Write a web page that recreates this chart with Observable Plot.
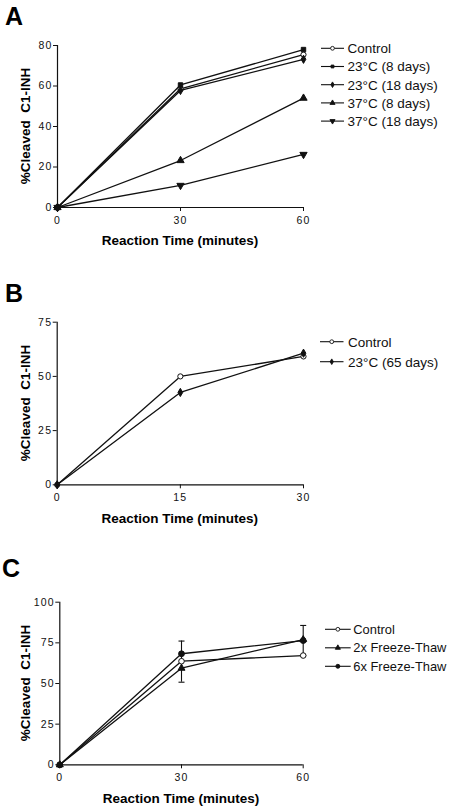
<!DOCTYPE html>
<html>
<head>
<meta charset="utf-8">
<script src="https://cdn.jsdelivr.net/npm/d3@7"></script>
<script src="https://cdn.jsdelivr.net/npm/@observablehq/plot@0.6"></script>
<style>
  html, body { margin: 0; padding: 0; background: #fff; }
  #root { width: 450px; height: 807px; position: relative; overflow: hidden; }
  #root svg { display: block; }
  #root g[aria-label$="tick label"] text { letter-spacing: 1.2px; }
</style>
</head>
<body>
<div id="root"></div>
<script>
// ---------- Panel A ----------
const timeA = [0, 30, 60];
const controlA = [0, 58.6, 75.5];
const c23d8A = [0, 60.5, 78];
const c23d18A = [0, 57.8, 73.2];
const c37d8A = [0, 23.2, 54];
const c37d18A = [0, 10.9, 26.2];
const xTicksA = [0, 30, 60];
const yTicksA = [0, 20, 40, 60, 80];

// ---------- Panel B ----------
const timeB = [0, 15, 30];
const controlB = [0, 50, 59.2];
const c23d65B = [0, 42.6, 60.7];
const xTicksB = [0, 15, 30];
const yTicksB = [0, 25, 50, 75];

// ---------- Panel C ----------
const timeC = [0, 30, 60];
const controlC = [0, 63.7, 67.2];
const ft2xC = [0, 59.4, 77];
const ft6xC = [0, 68.3, 76.4];
const errTimeC = [30, 60];
const errLowC = [50.8, 67.1];
const errHighC = [76.1, 85.7];
const xTicksC = [0, 30, 60];
const yTicksC = [0, 25, 50, 75, 100];

const xTitle = "Reaction Time (minutes)";
const yTitle = "%Cleaved\u00A0 C1-INH";
const FONT = "'Liberation Sans', Arial, Helvetica, sans-serif";

// custom symbols
const triangleDown = {
  draw(ctx, size) {
    const y = -Math.sqrt(size / (3 * Math.sqrt(3)));
    ctx.moveTo(0, -y * 2);
    ctx.lineTo(-Math.sqrt(3) * y, y);
    ctx.lineTo(Math.sqrt(3) * y, y);
    ctx.closePath();
  }
};
const capSymbol = {
  draw(ctx, size) {
    const w = Math.sqrt(size);
    ctx.moveTo(-w, 0);
    ctx.lineTo(w, 0);
  }
};
const symbolFor = {
  circle: d3.symbolCircle,
  square: d3.symbolSquare,
  diamond: d3.symbolDiamond,
  triangle: d3.symbolTriangle,
  triangleDown: triangleDown
};

function rowsOf(series, times) {
  return series.flatMap(s => times.map((t, i) => ({series: s.name, x: t, y: s.values[i]})));
}

function panel(cfg) {
  const rows = rowsOf(cfg.series, cfg.times);
  const marks = [
    Plot.ruleX([0], {stroke: "#111", strokeWidth: 1.2}),
    Plot.ruleY([0], {stroke: "#111", strokeWidth: 1.2}),
    Plot.axisX({ticks: cfg.xTicks, tickSize: 4, tickPadding: 5, label: null, tickFormat: d => String(d), stroke: "#111"}),
    Plot.axisY({ticks: cfg.yTicks, tickSize: 4, tickPadding: 1, label: null, tickFormat: d => String(d), stroke: "#111"}),
  ];
  if (cfg.errors) {
    const e = cfg.errors;
    const er = e.times.map((t, i) => ({x: t, lo: e.low[i], hi: e.high[i]}));
    marks.push(Plot.ruleX(er, {x: "x", y1: "lo", y2: "hi", stroke: "#111", strokeWidth: 1.1}));
    marks.push(Plot.dot(er, {x: "x", y: "hi", symbol: capSymbol, r: 1.7, stroke: "#111", strokeWidth: 1.1, fill: "none"}));
    marks.push(Plot.dot(er, {x: "x", y: "lo", symbol: capSymbol, r: 1.7, stroke: "#111", strokeWidth: 1.1, fill: "none"}));
  }
  marks.push(Plot.line(rows, {x: "x", y: "y", z: "series", stroke: "#111", strokeWidth: 1.3}));
  for (const s of cfg.series) {
    marks.push(Plot.dot(rows.filter(r => r.series === s.name), {
      x: "x", y: "y",
      symbol: symbolFor[s.symbol],
      r: s.r,
      fill: s.open ? "white" : "#111",
      stroke: "#111",
      strokeWidth: 1
    }));
  }
  const svg = Plot.plot({
    width: 450,
    height: cfg.height,
    marginTop: cfg.mt, marginBottom: cfg.mb, marginLeft: cfg.ml, marginRight: cfg.mr,
    x: {domain: cfg.xDomain},
    y: {domain: cfg.yDomain},
    style: {fontFamily: FONT, fontSize: "10.5px", color: "#111", background: "white", overflow: "visible"},
    marks
  });
  const g = d3.select(svg);
  const plotL = cfg.ml, plotR = 450 - cfg.mr, plotT = cfg.mt, plotB = cfg.height - cfg.mb;
  // panel letter
  g.append("text").attr("x", cfg.letterX).attr("y", cfg.letterY).attr("text-anchor", "start")
    .attr("font-family", FONT).attr("font-weight", "bold").attr("font-size", 25).attr("fill", "#000")
    .text(cfg.letter);
  // x title
  g.append("text").attr("x", (plotL + plotR) / 2).attr("y", plotB + 33.5)
    .attr("text-anchor", "middle").attr("dy", "0.36em")
    .attr("font-family", FONT).attr("font-weight", "bold").attr("font-size", 13.5).attr("fill", "#000")
    .text(xTitle);
  // y title
  g.append("text").attr("transform", `translate(25,${(plotT + plotB) / 2}) rotate(-90)`)
    .attr("text-anchor", "middle").attr("dy", "0.36em")
    .attr("font-family", FONT).attr("font-weight", "bold").attr("font-size", 13.5).attr("fill", "#000")
    .text(yTitle);
  // legend
  const lg = g.append("g").attr("text-anchor", "start");
  cfg.series.forEach((s, i) => {
    const y = cfg.legend.y0 + i * cfg.legend.dy;
    lg.append("line").attr("x1", cfg.legend.x1).attr("x2", cfg.legend.x2)
      .attr("y1", y).attr("y2", y).attr("stroke", "#111").attr("stroke-width", 1.1);
    lg.append("path")
      .attr("transform", `translate(${(cfg.legend.x1 + cfg.legend.x2) / 2},${y})`)
      .attr("d", d3.symbol(symbolFor[s.symbol], Math.PI * s.lr * s.lr)())
      .attr("fill", s.open ? "white" : "#111").attr("stroke", "#111").attr("stroke-width", 0.9);
    lg.append("text").attr("x", cfg.legend.tx).attr("y", y).attr("dy", "0.36em").attr("text-anchor", "start")
      .attr("font-family", FONT).attr("font-size", cfg.legend.fs).attr("fill", "#111")
      .text(s.name);
  });
  return svg;
}

const root = document.getElementById("root");

root.appendChild(panel({
  height: 265, mt: 45, mb: 58, ml: 57, mr: 147,
  xDomain: [0, 60], yDomain: [0, 80], xTicks: xTicksA, yTicks: yTicksA,
  times: timeA,
  series: [
    {name: "Control", values: controlA, symbol: "circle", open: true, r: 2.6, lr: 1.9},
    {name: "23°C (8 days)", values: c23d8A, symbol: "square", r: 2.5, lr: 1.6},
    {name: "23°C (18 days)", values: c23d18A, symbol: "diamond", r: 2.5, lr: 1.7},
    {name: "37°C (8 days)", values: c37d8A, symbol: "triangle", r: 2.7, lr: 1.9},
    {name: "37°C (18 days)", values: c37d18A, symbol: "triangleDown", r: 2.7, lr: 1.9}
  ],
  letter: "A", letterX: 5, letterY: 25,
  legend: {x1: 321, x2: 344, tx: 347.5, y0: 48.3, dy: 18.2, fs: 13.5}
}));

root.appendChild(panel({
  height: 265, mt: 56.7, mb: 45.7, ml: 56.7, mr: 147,
  xDomain: [0, 30], yDomain: [0, 75], xTicks: xTicksB, yTicks: yTicksB,
  times: timeB,
  series: [
    {name: "Control", values: controlB, symbol: "circle", open: true, r: 2.6, lr: 1.9},
    {name: "23°C (65 days)", values: c23d65B, symbol: "diamond", r: 2.5, lr: 1.7}
  ],
  letter: "B", letterX: 5, letterY: 37,
  legend: {x1: 320, x2: 343.5, tx: 348, y0: 76.7, dy: 20, fs: 13.5}
}));

root.appendChild(panel({
  height: 277, mt: 71.7, mb: 42.7, ml: 59.3, mr: 147.3,
  xDomain: [0, 60], yDomain: [0, 100], xTicks: xTicksC, yTicks: yTicksC,
  times: timeC,
  series: [
    {name: "Control", values: controlC, symbol: "circle", open: true, r: 2.8, lr: 1.9},
    {name: "2x Freeze-Thaw", values: ft2xC, symbol: "triangle", r: 2.6, lr: 1.9},
    {name: "6x Freeze-Thaw", values: ft6xC, symbol: "circle", r: 2.9, lr: 2.0}
  ],
  errors: {times: errTimeC, low: errLowC, high: errHighC},
  letter: "C", letterX: 2, letterY: 47,
  legend: {x1: 325, x2: 350.7, tx: 353.3, y0: 99.3, dy: 18.5, fs: 12.9}
}));
</script>
</body>
</html>
